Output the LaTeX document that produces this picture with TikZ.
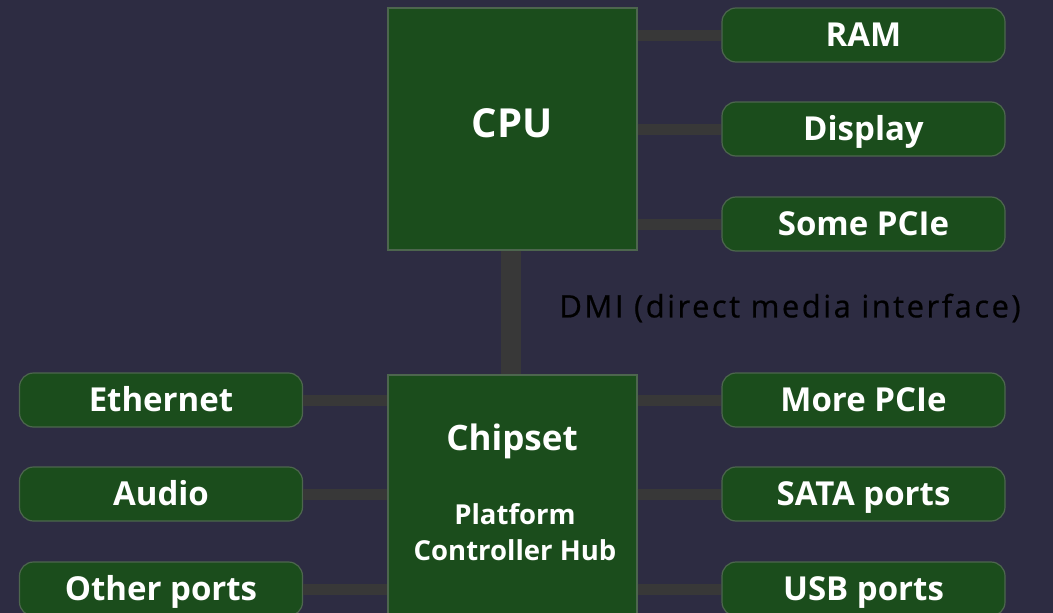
\documentclass[tikz,border=0pt]{standalone}
\usepackage{fontspec}
\setmainfont{Open Sans}
\newfontfamily\dmifont[LetterSpace=8,FakeBold=0.6]{Open Sans}
\usepackage{xcolor}
\usetikzlibrary{positioning}

\definecolor{bgnavy}{HTML}{2D2C42}
\definecolor{boxgreen}{HTML}{1B4D1C}
\definecolor{boxedge}{HTML}{4D664E}
\definecolor{linkgray}{HTML}{383838}
\definecolor{linkedge}{HTML}{565656}

\begin{document}
\begin{tikzpicture}
  [x=1pt,y=-1pt,
   chip/.style={rectangle,fill=boxgreen,draw=boxedge,line width=1.2pt,minimum width=249pt},
   part/.style={rectangle,rounded corners=14pt,fill=boxgreen,draw=boxedge,line width=1.2pt,
     minimum width=283pt,minimum height=54pt,text=white,text height=23pt,text depth=0pt,
     font=\fontsize{33}{33}\selectfont\bfseries},
   link/.style={draw=linkgray,line width=11pt},
   every node/.style={inner sep=0pt,outer sep=0pt}]
  \useasboundingbox (0,0) rectangle (1053,613);
  \clip (0,0) rectangle (1053,613);
  \fill[bgnavy] (0,0) rectangle (1053,613);

  % the two chips
  \node[chip,minimum height=242pt] (cpu) at (512.5,129) {};
  \node[chip,minimum height=265pt] (pch) at (512.5,507.5) {};
  \node[text=white,font=\fontsize{40}{40}\selectfont\bfseries] (cputxt) at (512,123) {CPU};
  \node[text=white,font=\fontsize{35}{35}\selectfont\bfseries] (pchtxt) at (512,441) {Chipset};
  \node[text=white,align=center,font=\fontsize{27.5}{36}\selectfont\bfseries] (pchname) at (515,532) {Platform\\Controller Hub};

  % CPU side
  \node[part] (ram) at (863.5,35) {RAM};
  \node[part] (disp) at (863.5,129) {Display};
  \node[part] (pcie) at (863.5,224) {Some PCIe};

  % chipset side
  \node[part] (eth) at (161,400) {Ethernet};
  \node[part] (audio) at (161,494) {Audio};
  \node[part] (other) at (161,589) {Other ports};
  \node[part] (morepcie) at (863.5,400) {More PCIe};
  \node[part] (sata) at (863.5,494) {SATA ports};
  \node[part] (usb) at (863.5,589) {USB ports};

  \node[text=black,font=\dmifont\fontsize{31}{31}\selectfont] (dmi) at (790,308) {DMI (direct media interface)};

  \foreach \to in {ram,disp,pcie}
    \draw[link,shorten <=0.6pt,shorten >=0.6pt] (cpu.east |- \to) -- (\to.west);
  \foreach \to in {morepcie,sata,usb}
    \draw[link,shorten <=0.6pt,shorten >=0.6pt] (pch.east |- \to) -- (\to.west);
  \foreach \from in {eth,audio,other}
    \draw[link,shorten <=0.6pt,shorten >=0.6pt] (\from.east) -- (pch.west |- \from);
  \draw[link,line width=20pt,shorten <=0.6pt,shorten >=0.6pt] (cpu.south -| 511,0) -- (pch.north -| 511,0);
\end{tikzpicture}
\end{document}
